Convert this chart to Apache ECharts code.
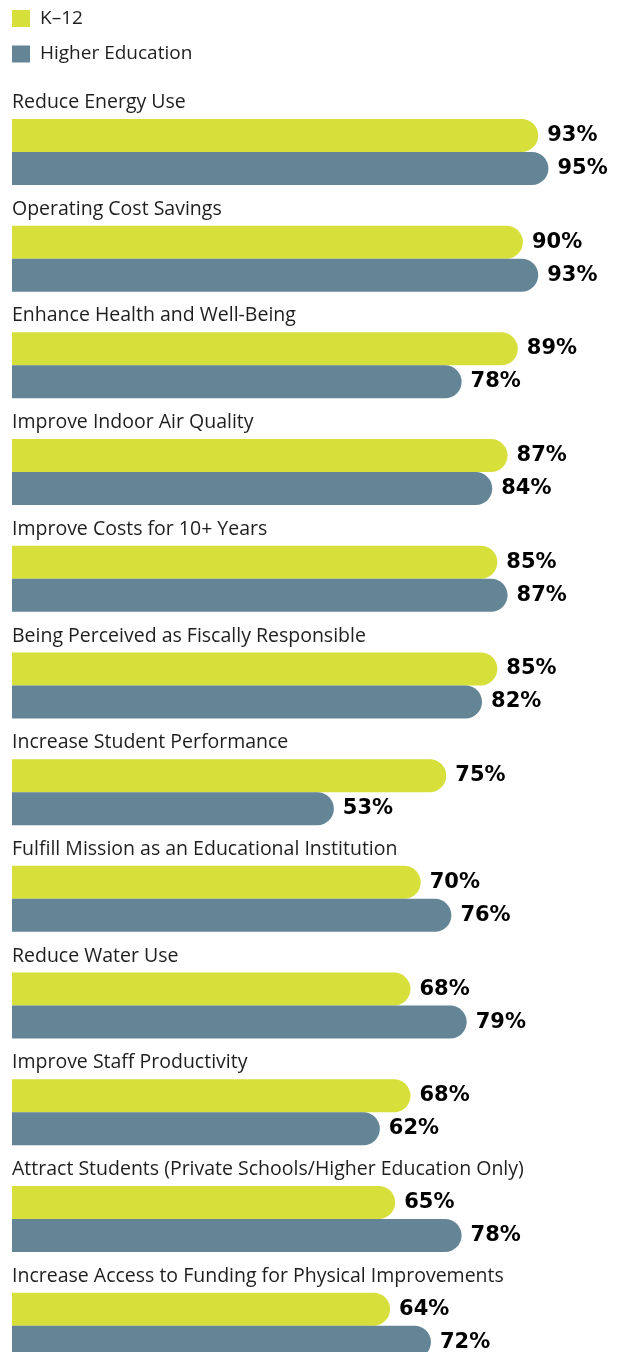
<!DOCTYPE html>
<html lang="en">
<head>
	<meta charset="UTF-8">
	<title>Drivers for green schools</title>
	<script src="https://cdn.jsdelivr.net/npm/echarts@6/dist/echarts.min.js"></script>
	<style>
		html, body { margin: 0; padding: 0; background: #fff; }
		#chart { width: 618px; height: 1352px; }
	</style>
</head>
<body>
	<div id="chart"></div>
	<script>
		// categories, top to bottom
		var categories = [
			'Reduce Energy Use',
			'Operating Cost Savings',
			'Enhance Health and Well-Being',
			'Improve Indoor Air Quality',
			'Improve Costs for 10+ Years',
			'Being Perceived as Fiscally Responsible',
			'Increase Student Performance',
			'Fulfill Mission as an Educational Institution',
			'Reduce Water Use',
			'Improve Staff Productivity',
			'Attract Students (Private Schools/Higher Education Only)',
			'Increase Access to Funding for Physical Improvements'
		];
		var k12 = [93, 90, 89, 87, 85, 85, 75, 70, 68, 68, 65, 64];
		var higherEd = [95, 93, 78, 84, 87, 82, 53, 76, 79, 62, 78, 72];

		var GREEN = '#d7e03b';
		var SLATE = '#648596';
		var TEXT_FONT = 'Open Sans';

		var chart = echarts.init(document.getElementById('chart'));

		function barSeries(name, data, color) {
			return {
				name: name,
				type: 'bar',
				data: data,
				barWidth: 33,
				barGap: '0%',
				itemStyle: { color: color, borderRadius: [0, 16.5, 16.5, 0] },
				label: {
					show: true,
					position: 'right',
					distance: 9,
					formatter: '{c}%',
					color: '#000',
					fontFamily: 'DejaVu Sans',
					fontWeight: 'bold',
					fontSize: 21
				}
			};
		}

		chart.setOption({
			animation: false,
			legend: {
				orient: 'vertical',
				left: 12,
				top: 9,
				padding: 0,
				itemWidth: 18,
				itemHeight: 17,
				itemGap: 16.5,
				icon: 'rect',
				textStyle: { fontFamily: TEXT_FONT, fontSize: 19, color: '#1e1e1e', padding: [0, 0, 0, 5] },
				data: ['K–12', 'Higher Education']
			},
			grid: { left: 12, right: 44, top: 98.6, height: 1280.4, outerBoundsMode: 'none', containLabel: false },
			xAxis: {
				type: 'value',
				min: -10,
				max: 100,
				startValue: -10,
				show: false
			},
			yAxis: {
				type: 'category',
				data: categories,
				inverse: true,
				axisLine: { show: false },
				axisTick: { show: false },
				splitLine: { show: false },
				axisLabel: {
					inside: true,
					margin: 0,
					interval: 0,
					showMinLabel: true,
					showMaxLabel: true,
					hideOverlap: false,
					verticalAlign: 'middle',
					// name line sits above the bar pair; the empty second line pushes it up
					formatter: function (v) { return '{name|' + v + '}\n{gap| }'; },
					rich: {
						name: { color: '#1e1e1e', fontFamily: TEXT_FONT, fontSize: 19.5, lineHeight: 22 },
						gap: { fontSize: 10, lineHeight: 99, height: 99 }
					}
				}
			},
			series: [
				barSeries('K–12', k12, GREEN),
				barSeries('Higher Education', higherEd, SLATE)
			]
		});
	</script>
</body>
</html>
